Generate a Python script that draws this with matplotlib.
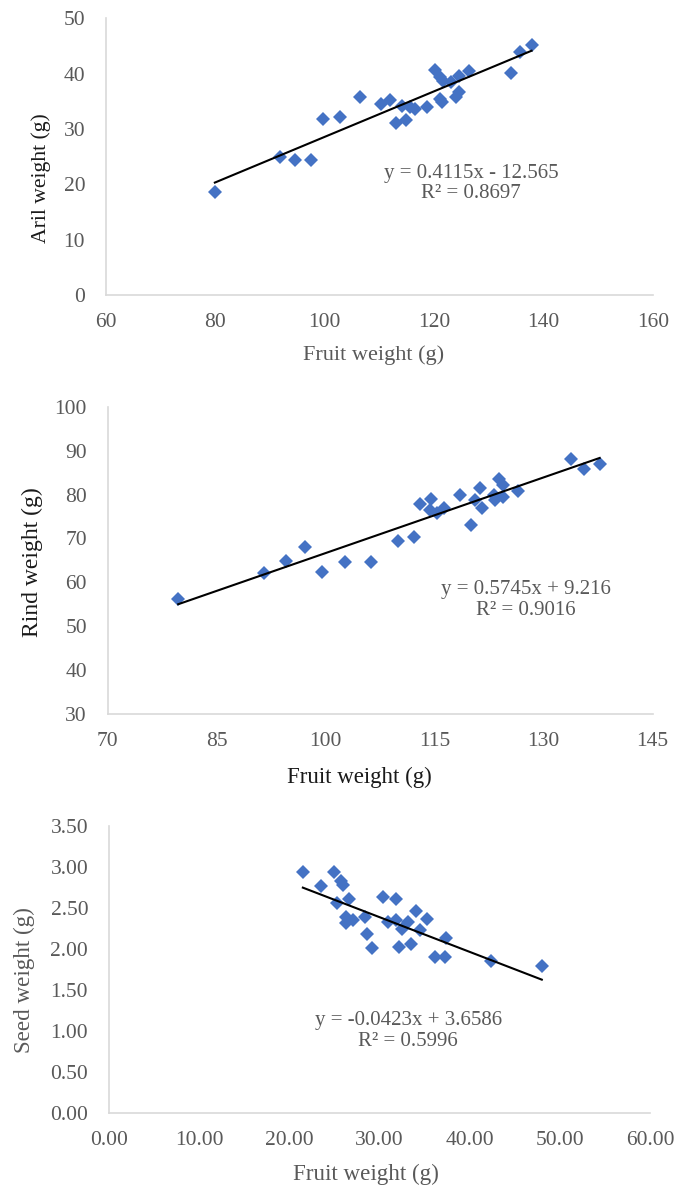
import matplotlib
matplotlib.use("Agg")
import matplotlib.pyplot as plt

# Fruit vs aril weight (g)
aril_fruit = [79.9, 91.8, 94.6, 97.4, 99.7, 102.8, 106.4, 110.2, 112.0, 113.0,
              114.8, 114.2, 115.6, 116.5, 118.6, 120.1, 121.0, 121.7, 123.0, 124.6,
              121.1, 121.4, 124.0, 124.6, 126.4, 134.0, 135.6, 137.8]
aril = [18.7, 24.9, 24.4, 24.4, 31.8, 32.2, 35.7, 34.5, 35.2, 31.0,
        31.6, 34.2, 33.9, 33.7, 33.9, 40.7, 39.4, 38.7, 38.5, 39.6,
        35.5, 34.9, 35.7, 36.7, 40.5, 40.2, 43.9, 45.2]

# Fruit vs rind weight (g)
rind_fruit = [79.7, 91.5, 94.5, 97.2, 99.5, 102.7, 106.3, 110.0, 112.1, 113.0,
              114.5, 114.4, 115.3, 116.3, 118.5, 120.0, 120.5, 121.2, 121.5, 123.1,
              123.3, 123.8, 124.4, 124.4, 126.5, 133.8, 135.6, 137.7]
rind = [56.1, 62.2, 64.9, 68.1, 62.4, 64.7, 64.7, 69.4, 70.4, 77.8,
        78.9, 76.5, 75.7, 76.9, 80.0, 73.1, 78.7, 81.4, 76.9, 79.9,
        78.7, 83.5, 82.2, 79.5, 80.8, 88.0, 85.7, 86.9]

# Fruit vs seed weight (g)
seed_fruit = [21.5, 23.5, 25.0, 25.3, 25.7, 25.9, 26.6, 26.3, 26.3, 27.1,
              28.4, 28.6, 29.2, 30.4, 30.9, 31.8, 31.8, 32.2, 32.5, 33.2,
              33.5, 34.1, 34.5, 35.3, 36.1, 37.3, 37.4, 42.4, 48.0]
seed = [2.94, 2.77, 2.94, 2.56, 2.83, 2.78, 2.61, 2.39, 2.32, 2.35,
        2.39, 2.18, 2.01, 2.64, 2.33, 2.61, 2.35, 2.02, 2.25, 2.33,
        2.06, 2.47, 2.23, 2.37, 1.91, 1.91, 2.14, 1.86, 1.79]

# trend line coefficients (slope, intercept, R²)
aril_fit = (0.4115, -12.565, 0.8697)
rind_fit = (0.5745, 9.216, 0.9016)
seed_fit = (-0.0423, 3.6586, 0.5996)

FONT = "Liberation Serif"
GREY = "#595959"
DARK = "#1a1a1a"
BLUE = "#4472C4"
SPINE = "#D9D9D9"

W, H = 677, 1186
fig = plt.figure(figsize=(W / 100, H / 100), dpi=100)


def px_axes(left, top, right, bottom):
    return fig.add_axes([left / W, 1 - bottom / H, (right - left) / W, (bottom - top) / H])


def scatter_panel(ax, x, y, fit, xlim, ylim, xticks, yticks, fmt,
                  ylabel, xlabel, ylab_style, xlab_style,
                  ylab_pos, xlab_pos, eq_pos, eq_label):
    ax.plot(x, y, linestyle="none", marker="D", markersize=6.9,
            color=BLUE, markeredgewidth=0, zorder=3)
    slope, icpt, r2 = fit
    x0, x1 = min(x), max(x)
    ax.plot([x0, x1], [slope * x0 + icpt, slope * x1 + icpt],
            color="black", linewidth=1.5, zorder=4)

    ax.set_xlim(*xlim)
    ax.set_ylim(*ylim)
    ax.set_xticks(xticks)
    ax.set_yticks(yticks)
    ax.set_xticklabels([fmt.format(v) for v in xticks])
    ax.set_yticklabels([fmt.format(v) for v in yticks])
    ax.tick_params(length=0, labelsize=15.5, labelcolor=GREY, pad=13)
    ax.tick_params(axis="y", pad=15)
    for lab in ax.get_xticklabels() + ax.get_yticklabels():
        lab.set_fontfamily(FONT)

    for side in ("top", "right"):
        ax.spines[side].set_visible(False)
    for side in ("left", "bottom"):
        ax.spines[side].set_color(SPINE)
        ax.spines[side].set_linewidth(1.2)

    ax.set_ylabel(ylabel, fontsize=ylab_style[1], family=FONT, color=ylab_style[0], va="center")
    ax.yaxis.set_label_coords(*ylab_pos)
    ax.set_xlabel(xlabel, fontsize=xlab_style[1], family=FONT, color=xlab_style[0], va="center")
    ax.xaxis.set_label_coords(*xlab_pos)

    ax.text(eq_pos[0], eq_pos[1], eq_label + "\nR² = %.4f" % r2,
            transform=ax.transAxes, ha="center", va="center",
            multialignment="center", fontsize=15, family=FONT, color=GREY,
            linespacing=1.1)


# Aril weight
ax1 = px_axes(106, 18.3, 653, 295)
scatter_panel(ax1, aril_fruit, aril, aril_fit, (60, 160), (0, 50),
              [60, 80, 100, 120, 140, 160], [0, 10, 20, 30, 40, 50], "{:d}",
              "Aril weight (g)", "Fruit weight (g)", (DARK, 15.6), (GREY, 16),
              (-0.119, 0.423), (0.490, -0.217), (0.667, 0.403),
              "y = 0.4115x - 12.565")

# Rind weight
ax2 = px_axes(107.7, 406.7, 652.7, 714)
scatter_panel(ax2, rind_fruit, rind, rind_fit, (70, 145), (30, 100),
              [70, 85, 100, 115, 130, 145], [30, 40, 50, 60, 70, 80, 90, 100], "{:d}",
              "Rind weight (g)", "Fruit weight (g)", (DARK, 17), (DARK, 16.5),
              (-0.139, 0.495), (0.461, -0.205), (0.768, 0.371),
              "y = 0.5745x + 9.216")

# Seed weight
ax3 = px_axes(109, 826, 650, 1113.3)
scatter_panel(ax3, seed_fruit, seed, seed_fit, (0, 60), (0, 3.5),
              [0, 10, 20, 30, 40, 50, 60], [0, 0.5, 1.0, 1.5, 2.0, 2.5, 3.0, 3.5], "{:.2f}",
              "Seed weight (g)", "Fruit weight (g)", (GREY, 16.6), (GREY, 16.6),
              (-0.157, 0.464), (0.475, -0.211), (0.553, 0.287),
              "y = -0.0423x + 3.6586")

fig.savefig("out.png", dpi=100)
